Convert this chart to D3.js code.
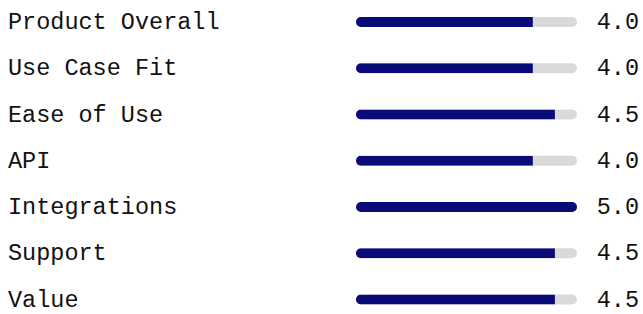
<!DOCTYPE html>
<html>
<head>
<meta charset="utf-8">
<script src="https://cdn.jsdelivr.net/npm/d3@7"></script>
<style>
  body { margin: 0; background: #fff; }
  text { font-family: "Liberation Mono", "DejaVu Sans Mono", monospace; fill: #111; }
</style>
</head>
<body>
<script>
var w = 643;
var h = 314;

var categories = ["Product Overall", "Use Case Fit", "Ease of Use", "API", "Integrations", "Support", "Value"];
var scores = [4.0, 4.0, 4.5, 4.0, 5.0, 4.5, 4.5];
var maxScore = 5;

var barLeft = 356, barRight = 577, barH = 10;

var svg = d3.select("body").append("svg")
    .attr("width", w)
    .attr("height", h);

var x = d3.scaleLinear().domain([0, maxScore]).range([barLeft, barRight]);
var y = d3.scalePoint().domain(categories).range([22, 299.5]);

var defs = svg.append("defs");

var rows = svg.selectAll(".row")
    .data(categories)
    .enter().append("g")
    .attr("class", "row")
    .attr("transform", function(d) { return "translate(0," + y(d) + ")"; });

// clip so the fill keeps the track's round ends
defs.selectAll("clipPath")
    .data(categories)
    .enter().append("clipPath")
    .attr("id", function(d, i) { return "clip" + i; })
    .append("rect")
    .attr("x", x(0))
    .attr("y", -barH / 2)
    .attr("width", x(maxScore) - x(0))
    .attr("height", barH)
    .attr("rx", barH / 2);

// labels
rows.append("text")
    .attr("x", 8)
    .attr("y", 0)
    .attr("dy", "0.3em")
    .style("font-size", "23.5px")
    .text(function(d) { return d; });

// track
rows.append("rect")
    .attr("x", x(0))
    .attr("y", -barH / 2)
    .attr("width", x(maxScore) - x(0))
    .attr("height", barH)
    .attr("rx", barH / 2)
    .style("fill", "#d9d9d9");

// fill
rows.append("rect")
    .attr("clip-path", function(d, i) { return "url(#clip" + i + ")"; })
    .attr("x", x(0))
    .attr("y", -barH / 2)
    .attr("width", function(d, i) { return x(scores[i]) - x(0); })
    .attr("height", barH)
    .style("fill", "#0a0a78");

// values
rows.append("text")
    .attr("x", 639)
    .attr("y", 0)
    .attr("dy", "0.3em")
    .attr("text-anchor", "end")
    .style("font-size", "23.5px")
    .text(function(d, i) { return d3.format(".1f")(scores[i]); });
</script>
</body>
</html>
